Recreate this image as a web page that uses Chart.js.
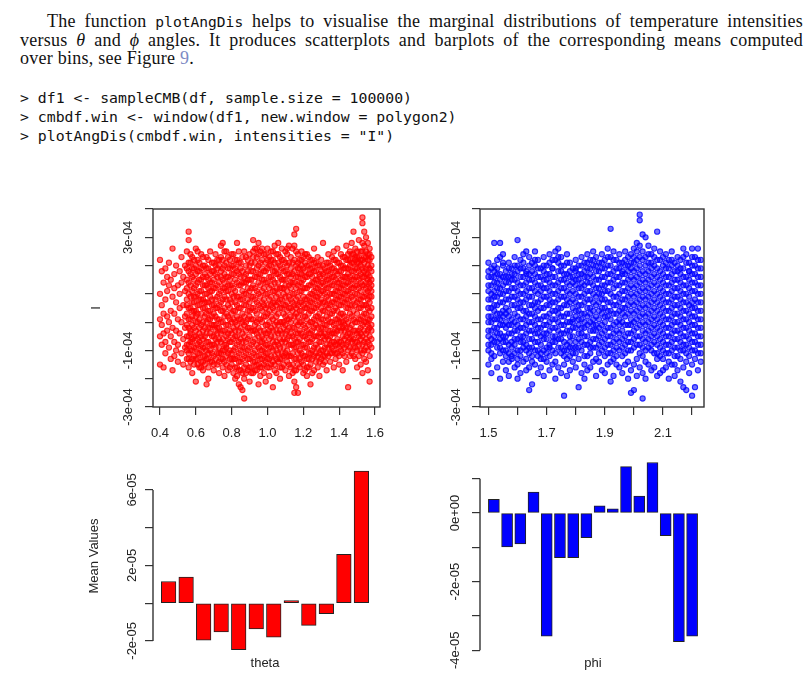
<!DOCTYPE html>
<html>
<head>
<meta charset="utf-8">
<script src="https://cdn.jsdelivr.net/npm/chart.js@4"></script>
<style>
  html, body { margin: 0; padding: 0; background: #fff; }
  #page { position: relative; width: 807px; height: 678px; overflow: hidden; background: #fff; }
  .txt { position: absolute; left: 20px; width: 783px; font-family: 'Liberation Serif', serif; font-size: 18px; letter-spacing: 0.25px; line-height: 18px; color: #111; }
  .jl { text-align: justify; text-align-last: justify; }
  .tt { font-family: 'DejaVu Sans Mono', monospace; font-size: 14.6px; letter-spacing: 0; }
  .code { position: absolute; left: 20px; font-family: 'DejaVu Sans Mono', monospace; font-size: 14.8px; line-height: 19px; color: #111; white-space: pre; }
  canvas { position: absolute; }
</style>
</head>
<body>
<div id="page">
  <div class="txt" style="top:12px">
    <div class="jl" style="padding-left:27px">The function <span class="tt">plotAngDis</span> helps to visualise the marginal distributions of temperature intensities</div>
    <div class="jl">versus <i>θ</i> and <i>ϕ</i> angles. It produces scatterplots and barplots of the corresponding means computed</div>
    <div>over bins, see Figure <span style="color:#7d8ac4">9</span>.</div>
  </div>
  <div class="code" style="top:88px">&gt; df1 &lt;- sampleCMB(df, sample.size = 100000)
&gt; cmbdf.win &lt;- window(df1, new.window = polygon2)
&gt; plotAngDis(cmbdf.win, intensities = "I")</div>

  <canvas id="thetaScatter" width="320" height="260" style="left:80px; top:195px"></canvas>
  <canvas id="phiScatter" width="300" height="260" style="left:420px; top:195px"></canvas>
  <canvas id="thetaBars" width="320" height="228" style="left:80px; top:450px"></canvas>
  <canvas id="phiBars" width="300" height="228" style="left:420px; top:450px"></canvas>
</div>
<script>
// tick labels that R actually prints (the others are skipped)
const scatterYLabels = ['3e-04', '1e-04', '-1e-04', '-3e-04'];
const thetaXLabels = ['0.4', '0.6', '0.8', '1.0', '1.2', '1.4', '1.6'];
const phiXLabels = ['1.5', '1.7', '1.9', '2.1'];
const thetaBarYLabels = ['6e-05', '2e-05', '-2e-05'];
const phiBarYLabels = ['0e+00', '-2e-05', '-4e-05'];

// bin means (barplots)
const thetaMeans = [1.15e-5, 1.38e-5, -1.96e-5, -1.52e-5, -2.47e-5, -1.36e-5, -1.80e-5, 0.14e-5, -1.18e-5, -0.56e-5, 2.59e-5, 7.0e-5];
const phiMeans = [0.40e-5, -0.99e-5, -0.90e-5, 0.61e-5, -3.59e-5, -1.30e-5, -1.30e-5, -0.72e-5, 0.21e-5, 0.12e-5, 1.35e-5, 0.49e-5, 1.47e-5, -0.66e-5, -3.75e-5, -3.59e-5];

// scatter samples: [angle, [intensities in units of 1e-5]]
const thetaSample = [
  [0.40, [18, 6, -3, -9, -19]], [0.41, [14, 2, -5, -12]], [0.42, [10, -1, -8, -20]], [0.43, [15, 4, -11, -15]],
  [0.44, [12, 7, -2, -7]], [0.45, [17, 9, -4, -13]], [0.46, [11, 0, -9, -17]], [0.47, [22, 5, -6, -21]],
  [0.48, [13, 8, -1, -11, -16]], [0.49, [16, 3, -7, -14]], [0.50, [9, -3, -12, -18]], [0.51, [14, 6, 1, -8]],
  [0.52, [19, 10, -4, -15]], [0.53, [12, 2, -10, -19]], [0.54, [16, 7, -2, -6, -13]], [0.55, [21, 11, 4, -5, -12, -17]],
  [0.56, [28, 25, 14, 6, -3, -9, -15, -20]], [0.57, [17, 9, 1, -7, -11, -18]], [0.58, [19, 12, 3, -2, -10, -14, -22]],
  [0.59, [15, 8, 0, -6, -13, -16]], [0.60, [22, 13, 5, -4, -9, -17, -25]], [0.61, [18, 10, 2, -1, -12, -15, -19]],
  [0.62, [14, 7, -3, -8, -11, -20]], [0.63, [20, 11, 4, -5, -14, -18]], [0.64, [16, 9, 1, -7, -10, -16, -21]],
  [0.65, [13, 6, -2, -9, -13, -19]], [0.66, [19, 12, 3, -4, -11, -17, -26]], [0.67, [15, 8, 0, -6, -15, -20, -24]],
  [0.68, [21, 10, 5, -3, -8, -14]], [0.69, [17, 7, 2, -5, -12, -18]], [0.70, [14, 11, -1, -9, -16, -21]],
  [0.71, [20, 13, 4, -2, -7, -13]], [0.72, [18, 9, 1, -6, -11, -19]], [0.73, [16, 6, -3, -10, -15, -22]],
  [0.74, [23, 12, 3, -4, -8, -17]], [0.75, [24, 15, 8, 0, -7, -14, -20]], [0.76, [21, 10, 5, -2, -12, -18, -23]],
  [0.77, [17, 7, -1, -9, -13, -16]], [0.78, [19, 12, 2, -5, -10, -21]], [0.79, [15, 9, 4, -3, -11, -17]],
  [0.80, [20, 13, 6, -1, -8, -15, -19]], [0.81, [16, 8, 0, -6, -14, -22]], [0.82, [18, 11, 3, -4, -9, -17, -24]],
  [0.83, [24, 14, 5, -2, -12, -20, -23]], [0.84, [17, 9, 1, -7, -15, -21, -26]], [0.85, [15, 12, 4, -3, -10, -18, -27]],
  [0.86, [19, 7, -1, -8, -13, -22, -28]], [0.87, [21, 10, 2, -5, -16, -24, -31]], [0.88, [16, 13, 6, -4, -11, -19]],
  [0.89, [18, 8, 0, -6, -14, -21]], [0.90, [20, 11, 3, -2, -9, -17, -25]], [0.91, [17, 14, 5, -3, -12, -20]],
  [0.92, [25, 19, 9, 1, -7, -15, -22]], [0.93, [22, 12, 4, -5, -10, -18]], [0.94, [19, 15, 7, -1, -8, -16, -21]],
  [0.95, [24, 16, 10, 2, -6, -13, -19, -26]], [0.96, [21, 13, 5, -3, -11, -17, -23]], [0.97, [18, 11, 3, 0, -9, -14, -20]],
  [0.98, [20, 14, 8, -2, -7, -16, -22]], [0.99, [17, 10, 1, -5, -12, -18, -25]], [1.00, [22, 15, 6, -1, -8, -15, -20]],
  [1.01, [19, 12, 4, -4, -10, -17, -23]], [1.02, [21, 16, 9, 2, -6, -13, -19]], [1.03, [18, 11, 3, -3, -11, -18, -27]],
  [1.04, [23, 14, 7, 0, -9, -16, -21]], [1.05, [20, 13, 5, -2, -7, -14, -22]], [1.06, [24, 17, 10, 3, -5, -12, -18]],
  [1.07, [19, 12, 4, -4, -10, -17, -24]], [1.08, [22, 15, 8, 1, -8, -15, -20]], [1.09, [18, 11, 6, -1, -6, -13, -19]],
  [1.10, [21, 14, 9, 2, -5, -11, -21]], [1.11, [20, 16, 7, 0, -7, -14, -18]], [1.12, [23, 13, 5, -3, -9, -16, -23]],
  [1.13, [19, 12, 8, 1, -4, -12, -20]], [1.14, [22, 17, 10, 3, -6, -15, -22]], [1.15, [27, 23, 14, 6, -2, -10, -17, -25, -29]],
  [1.16, [29, 21, 12, 4, -1, -8, -13, -21, -27]], [1.17, [20, 15, 9, 2, -5, -11, -19, -29]], [1.18, [18, 13, 7, 0, -7, -14, -20]],
  [1.19, [21, 16, 10, 3, -4, -12, -18]], [1.20, [19, 11, 5, -2, -9, -16, -22]], [1.21, [17, 14, 8, 1, -6, -13, -21]],
  [1.22, [20, 12, 4, -3, -10, -17, -23]], [1.23, [16, 9, 2, -5, -8, -15, -20]], [1.24, [18, 13, 6, 0, -11, -19, -26]],
  [1.25, [15, 10, 3, -4, -7, -14, -22]], [1.26, [22, 14, 7, 1, -9, -16, -21]], [1.27, [17, 11, 5, -2, -12, -18]],
  [1.28, [19, 8, 2, -6, -13, -20]], [1.29, [16, 12, 6, -1, -8, -15, -23]], [1.30, [18, 10, 4, -3, -11, -17]],
  [1.31, [24, 13, 7, 0, -6, -14, -19]], [1.32, [15, 9, 3, -5, -10, -16]], [1.33, [17, 11, 5, -2, -12, -21]],
  [1.34, [20, 14, 8, 1, -7, -13]], [1.35, [16, 10, 2, -4, -9, -18]], [1.36, [19, 12, 6, -1, -11, -15]],
  [1.37, [21, 15, 9, 3, -5, -14, -20]], [1.38, [18, 11, 4, -3, -8, -17]], [1.39, [22, 13, 7, 0, -10, -12]],
  [1.40, [17, 10, 5, -2, -6, -16, -19]], [1.41, [20, 14, 8, 2, -4, -11]], [1.42, [16, 12, 3, -1, -9, -15, -21]],
  [1.43, [19, 9, 6, -5, -7, -13]], [1.44, [23, 15, 10, 4, -3, -12, -18]], [1.45, [18, 13, 7, 1, -8, -14, -27]],
  [1.46, [21, 16, 9, 2, -6, -10, -16]], [1.47, [24, 17, 11, 5, -2, -9, -15]], [1.48, [28, 20, 14, 8, 0, -7, -13]],
  [1.49, [22, 18, 12, 6, -4, -11, -17]], [1.50, [19, 15, 9, 3, -1, -8, -14, -20]], [1.51, [25, 17, 11, 4, -3, -12, -16]],
  [1.52, [21, 16, 13, 7, 1, -6, -10, -19]], [1.53, [33, 31, 24, 18, 12, 5, -2, -9, -15, -22]],
  [1.54, [28, 23, 19, 14, 9, 2, -4, -11, -17]], [1.55, [26, 21, 15, 10, 6, -1, -8, -13, -18]],
  [1.56, [24, 20, 16, 11, 4, -3, -7, -14, -21]], [1.57, [22, 18, 12, 8, 3, 0, -6, -12, -16, -25]],
  [1.58, [19, 14, 9, 5, -2, -5, -10]]
];

// the saturated middle of the theta cloud
const thetaCore = [
  [0.55, [8, -1, -9, 15, 2, -14]], [0.56, [10, 1, -6, -12, 17, -17]], [0.57, [13, 5, -3, -14, 20, -8]],
  [0.58, [7, -5, -17, 15, 0, -11]], [0.59, [11, 3, -9, -19, 18, 5]], [0.60, [9, 0, -7, -13, 16, -2]],
  [0.61, [14, 6, -4, -10, -17, 21]], [0.62, [11, 2, -6, -15, 17, 4]], [0.63, [7, -1, -9, -12, 15, -20]],
  [0.64, [12, 4, -4, -13, 19, -18]], [0.65, [9, 1, -6, -16, 16, 3]], [0.66, [15, 6, -1, -8, -14, 9]],
  [0.67, [11, 3, -3, -11, 18, -17]], [0.68, [13, 7, 0, -6, -12, -18]], [0.69, [10, 4, -2, -9, 14, -15]],
  [0.70, [8, 2, -5, -12, 17, -19]], [0.71, [16, 8, 1, -5, -10, -17]], [0.72, [12, 5, -3, -8, -15, 15]],
  [0.73, [10, 2, -6, -13, 18, -18]], [0.74, [14, 7, 0, -11, -15, 19]], [0.75, [11, 4, -4, -10, 18, -17]],
  [0.76, [16, 8, 1, -7, -14, 13]], [0.77, [12, 4, -5, -12, 21, -19]], [0.78, [15, 7, -2, -8, -15, 9]],
  [0.79, [11, 1, -7, -14, 18, -20]], [0.80, [9, 3, -4, -11, 16, -17]], [0.81, [13, 5, -3, -10, -17, 20]],
  [0.82, [15, 7, 0, -7, -13, -20]], [0.83, [10, 2, -5, -9, -16, 18]], [0.84, [13, 5, -3, -11, -18, 21]],
  [0.85, [9, 1, -6, -14, 17, -21]], [0.86, [14, 4, -4, -11, -17, 10]], [0.87, [12, 6, -2, -9, -13, -20]],
  [0.88, [10, 2, -7, -15, 19, -22]], [0.89, [14, 4, -3, -10, -17, 11]], [0.90, [16, 7, 0, -6, -13, -20]],
  [0.91, [11, 8, 1, -7, -16, -22]], [0.92, [14, 5, -3, -11, -18, 21]], [0.93, [17, 8, 0, -7, -14, -21]],
  [0.94, [12, 3, -4, -12, -19, 22]], [0.95, [13, 6, -3, -9, -16, 20]], [0.96, [17, 9, 1, -7, -14, -20]],
  [0.97, [15, 7, -4, -11, -17, 22]], [0.98, [11, 4, 2, -10, -13, -19]], [0.99, [14, 6, -2, -8, -15, 20]],
  [1.00, [18, 10, 2, -5, -12, -17]], [1.01, [16, 8, 0, -7, -13, -20]], [1.02, [12, 5, -2, -9, -16, 18]],
  [1.03, [14, 7, 1, -7, -14, 21]], [1.04, [17, 10, 3, -5, -12, -19]], [1.05, [15, 8, 2, -4, -11, -17]],
  [1.06, [13, 6, -1, -8, -15, 20]], [1.07, [16, 8, 1, -7, -13, -20]], [1.08, [18, 11, 4, -4, -11, -17]],
  [1.09, [14, 8, 2, -4, -10, -16]], [1.10, [17, 11, 5, -2, -8, -15]], [1.11, [13, 3, -3, -10, -16, 22]],
  [1.12, [17, 9, 1, -6, -12, -19]], [1.13, [15, 10, 4, -2, -8, -16]], [1.14, [13, 6, 0, -9, -12, -19]],
  [1.15, [18, 10, 2, -6, -13, -21]], [1.16, [16, 8, 1, -4, -11, -17]], [1.17, [17, 12, 5, -2, -8, -15]],
  [1.18, [15, 10, 3, -4, -10, -17]], [1.19, [18, 13, 7, 0, -8, -15]], [1.20, [15, 8, 2, -5, -12, -19]],
  [1.21, [12, 4, -2, -9, -16, 20]], [1.22, [16, 8, 1, -7, -13, -20]], [1.23, [13, 5, -1, -11, -17, 19]],
  [1.24, [15, 9, 3, -4, -8, -15]], [1.25, [18, 12, 6, 0, -10, -17]], [1.26, [17, 10, 4, -3, -6, -13]],
  [1.27, [14, 8, 1, -5, -9, -15]], [1.28, [16, 11, 5, -2, -9, -16]], [1.29, [13, 9, 3, -4, -11, -18]],
  [1.30, [14, 7, 1, -6, -8, -14]], [1.31, [16, 10, 3, -3, -9, -16]], [1.32, [12, 6, 0, -8, -13, -18]],
  [1.33, [14, 8, 2, -5, -9, -15]], [1.34, [17, 11, 4, -3, -10, -16]], [1.35, [13, 6, -1, -7, -12, -15]],
  [1.36, [15, 9, 3, -4, -8, -13]], [1.37, [18, 12, 6, 0, -8, -11]], [1.38, [14, 7, 1, -6, -12, -15]],
  [1.39, [17, 10, 4, -3, -7, -15]], [1.40, [14, 8, 2, -4, -11, -13]], [1.41, [16, 11, 5, -1, -7, -14]],
  [1.42, [19, 9, 6, -4, -6, -12]], [1.43, [15, 12, 3, -2, -10, -16]], [1.44, [18, 12, 7, 1, -6, -9]],
  [1.45, [20, 15, 10, 4, -4, -11]], [1.46, [18, 12, 6, -1, -8, -13]], [1.47, [20, 14, 8, 2, -5, -11]],
  [1.48, [17, 11, 4, -3, -10, -16]], [1.49, [19, 15, 9, 2, -7, -13]], [1.50, [21, 17, 12, 6, -4, -11]],
  [1.51, [19, 14, 8, 1, -7, -9]], [1.52, [18, 10, 4, -3, -8, -14]], [1.53, [21, 15, 9, 2, -5, -12]],
  [1.54, [17, 12, 5, -1, -7, -14]], [1.55, [19, 13, 8, 2, -4, -10]], [1.56, [18, 13, 7, 1, -5, -11]],
  [1.57, [20, 15, 10, 5, -3, -9]], [1.58, [16, 11, 7, 1, -7, -13]]
];

const phiSample = [
  [1.50, [17, 12, 7, 1, -4, -9, -14, -19]], [1.51, [15, 9, 4, -2, -7, -12, -17, -22]], [1.52, [24, 14, 10, 5, 0, -6, -11, -16]],
  [1.53, [18, 13, 8, 2, -3, -8, -13, -20]], [1.54, [24, 19, 11, 6, -1, -5, -10, -15, -24]], [1.55, [20, 16, 9, 3, -2, -9, -14, -18]],
  [1.56, [14, 10, 4, -1, -6, -11, -16, -21]], [1.57, [17, 12, 7, 0, -5, -12, -18, -23]], [1.58, [15, 11, 5, -3, -8, -13, -17]],
  [1.59, [19, 13, 8, 2, -4, -10, -15, -20]], [1.60, [25, 16, 10, 4, -2, -7, -14, -19, -24]], [1.61, [18, 12, 6, 1, -6, -11, -16, -22]],
  [1.62, [20, 15, 9, 3, -3, -9, -13, -18]], [1.63, [21, 14, 7, 0, -5, -12, -17, -21]], [1.64, [19, 13, 8, 2, -4, -10, -15, -20, -28]],
  [1.65, [17, 11, 5, -1, -7, -13, -18, -26]], [1.66, [21, 16, 10, 3, -2, -8, -14, -19]], [1.67, [18, 12, 6, 0, -6, -11, -16, -22]],
  [1.68, [15, 9, 4, -3, -9, -15, -20]], [1.69, [19, 14, 8, 1, -5, -10, -17, -23]], [1.70, [16, 11, 5, -2, -8, -13, -18]],
  [1.71, [20, 13, 7, 2, -4, -12, -16, -21]], [1.72, [18, 15, 9, 3, -3, -9, -14, -19]], [1.73, [21, 12, 6, 0, -6, -11, -18, -24]],
  [1.74, [22, 17, 10, 4, -1, -7, -13, -20]], [1.75, [19, 14, 8, 1, -5, -10, -15, -22]], [1.76, [16, 11, 5, -2, -8, -14, -19, -30]],
  [1.77, [20, 13, 7, 2, -4, -12, -17, -23]], [1.78, [17, 12, 6, -1, -7, -9, -16, -21]], [1.79, [15, 10, 4, -3, -6, -13, -18]],
  [1.80, [18, 14, 9, 3, -2, -11, -15, -20]], [1.81, [16, 11, 5, 0, -5, -10, -17, -27]], [1.82, [19, 13, 8, 2, -3, -8, -14, -22]],
  [1.83, [17, 12, 6, -1, -6, -12, -19, -24]], [1.84, [20, 15, 10, 4, -2, -9, -16, -21]], [1.85, [18, 13, 7, 1, -4, -11, -15, -20]],
  [1.86, [21, 16, 9, 3, -3, -7, -13, -18]], [1.87, [19, 14, 8, 2, -5, -10, -17, -23]], [1.88, [17, 11, 6, 0, -6, -12, -18]],
  [1.89, [20, 15, 9, 4, -1, -8, -14, -21]], [1.90, [18, 12, 7, 1, -4, -10, -16, -22]], [1.91, [22, 16, 10, 3, -2, -9, -15, -19]],
  [1.92, [29, 19, 13, 6, 0, -6, -12, -18, -25]], [1.93, [21, 14, 8, 2, -5, -11, -17, -23]], [1.94, [18, 12, 5, -1, -7, -13, -19]],
  [1.95, [20, 15, 9, 3, -3, -8, -14, -20]], [1.96, [17, 13, 7, 1, -4, -10, -16, -22]], [1.97, [21, 16, 10, 4, -2, -9, -15, -19]],
  [1.98, [19, 14, 8, 2, -5, -11, -18, -24]], [1.99, [20, 15, 9, 3, -3, -8, -14, -21, -29]], [2.00, [22, 17, 11, 5, -1, -7, -13, -19, -28]],
  [2.01, [24, 18, 12, 6, 0, -6, -12, -17, -23]], [2.02, [34, 32, 23, 16, 10, 4, -2, -9, -15, -20]],
  [2.03, [27, 21, 14, 8, 2, -4, -10, -16, -22, -31]], [2.04, [26, 19, 13, 7, 1, -5, -11, -18, -24]],
  [2.05, [23, 17, 11, 5, -1, -7, -13, -19]], [2.06, [20, 15, 9, 3, -3, -9, -14, -21]], [2.07, [22, 16, 10, 4, -2, -8, -15, -20]],
  [2.08, [28, 18, 12, 6, 0, -6, -12, -17, -23]], [2.09, [21, 14, 8, 2, -4, -10, -16, -22]], [2.10, [19, 13, 7, 1, -5, -11, -17, -21]],
  [2.11, [20, 15, 9, 3, -3, -9, -15, -20]], [2.12, [18, 12, 6, 0, -6, -12, -18, -24]], [2.13, [21, 16, 10, 4, -2, -8, -14, -19]],
  [2.14, [17, 11, 5, -1, -7, -13, -19, -23]], [2.15, [19, 14, 8, 2, -4, -10, -16, -21]], [2.16, [18, 13, 7, 1, -5, -11, -17, -25]],
  [2.17, [22, 15, 9, 3, -3, -9, -14, -20, -27]], [2.18, [20, 12, 6, 0, -6, -12, -18, -28]], [2.19, [17, 14, 8, 2, -4, -10, -16, -22]],
  [2.20, [22, 16, 10, 3, -2, -8, -14, -19, -30]], [2.21, [19, 13, 7, 1, -5, -11, -17, -27]], [2.22, [22, 15, 9, 3, -3, -9, -15, -21]],
  [2.23, [18, 12, 6, 0, -6, -12, -18]]
];

// the saturated middle of the phi cloud
const phiCore = [
  [1.50, [14, 9, 4, -2, -7, -12]], [1.51, [12, 6, 1, -4, -10, -15]], [1.52, [16, 12, 7, 2, -3, -9]],
  [1.53, [15, 10, 5, -1, -6, -11]], [1.54, [13, 8, 3, -3, -8, -13]], [1.55, [17, 12, 6, 0, -5, -11]],
  [1.56, [12, 7, 1, -4, -9, -14]], [1.57, [15, 10, 4, -2, -8, -15]], [1.58, [13, 8, 2, -5, -11, -16]],
  [1.59, [16, 11, 5, -1, -7, -12]], [1.60, [14, 7, 1, -5, -10, -17]], [1.61, [15, 9, 3, -3, -9, -14]],
  [1.62, [17, 12, 6, 0, -6, -11]], [1.63, [13, 10, 4, -2, -8, -14]], [1.64, [16, 11, 5, -1, -7, -13]],
  [1.65, [14, 8, 2, -4, -10, -16]], [1.66, [18, 13, 7, 1, -5, -11]], [1.67, [15, 9, 3, -3, -8, -14]],
  [1.68, [12, 7, 1, -6, -12, -17]], [1.69, [16, 11, 5, -2, -8, -14]], [1.70, [13, 8, 2, -5, -10, -15]],
  [1.71, [17, 10, 4, -1, -7, -13]], [1.72, [15, 12, 6, 0, -6, -11]], [1.73, [18, 9, 3, -3, -9, -15]],
  [1.74, [19, 14, 7, 1, -4, -10]], [1.75, [16, 11, 5, -2, -8, -13]], [1.76, [13, 8, 2, -5, -11, -16]],
  [1.77, [17, 10, 4, -1, -7, -14]], [1.78, [14, 9, 3, -4, -11, -13]], [1.79, [12, 7, 1, -4, -9, -15]],
  [1.80, [15, 11, 6, 0, -6, -13]], [1.81, [13, 8, 2, -3, -8, -13]], [1.82, [16, 10, 5, -1, -6, -11]],
  [1.83, [14, 9, 3, -4, -9, -16]], [1.84, [17, 12, 7, 1, -5, -12]], [1.85, [15, 10, 4, -1, -7, -13]],
  [1.86, [18, 12, 6, 0, -5, -10]], [1.87, [16, 11, 5, -2, -7, -13]], [1.88, [14, 8, 3, -3, -9, -15]],
  [1.89, [17, 12, 6, 1, -5, -11]], [1.90, [15, 9, 4, -2, -7, -13]], [1.91, [19, 13, 7, 0, -6, -12]],
  [1.92, [16, 10, 3, -3, -9, -15]], [1.93, [18, 11, 5, -1, -8, -14]], [1.94, [15, 9, 2, -4, -10, -16]],
  [1.95, [17, 12, 6, 0, -5, -11]], [1.96, [14, 10, 4, -1, -7, -13]], [1.97, [18, 13, 7, 1, -5, -12]],
  [1.98, [16, 11, 5, -1, -8, -14]], [1.99, [17, 12, 6, 0, -5, -11]], [2.00, [19, 14, 8, 2, -4, -10]],
  [2.01, [21, 15, 9, 3, -3, -9]], [2.02, [19, 13, 7, 1, -5, -12]], [2.03, [18, 11, 5, -1, -7, -13]],
  [2.04, [16, 10, 4, -2, -8, -14]], [2.05, [20, 14, 8, 2, -4, -10]], [2.06, [17, 12, 6, 0, -6, -12]],
  [2.07, [19, 13, 7, 1, -5, -11]], [2.08, [15, 9, 3, -3, -9, -15]], [2.09, [18, 11, 5, -1, -7, -13]],
  [2.10, [16, 10, 4, -2, -8, -14]], [2.11, [17, 12, 6, 0, -6, -12]], [2.12, [15, 9, 3, -3, -9, -15]],
  [2.13, [18, 13, 7, 1, -5, -11]], [2.14, [14, 8, 2, -4, -10, -16]], [2.15, [16, 11, 5, -1, -7, -13]],
  [2.16, [15, 10, 4, -2, -8, -14]], [2.17, [19, 12, 6, 0, -6, -12]], [2.18, [17, 9, 3, -3, -9, -15]],
  [2.19, [14, 11, 5, -1, -7, -13]], [2.20, [19, 13, 7, 1, -5, -11]], [2.21, [16, 10, 4, -2, -8, -14]],
  [2.22, [18, 12, 6, 0, -6, -12]], [2.23, [15, 9, 3, -3, -9, -15]]
];

Chart.defaults.font.family = "'Liberation Sans', Arial, sans-serif";
Chart.defaults.font.size = 13;
Chart.defaults.color = '#222';

const AXIS = '#333';

function rExp(v) {
  if (Math.abs(v) < 1e-12) return '0e+00';
  const [m, e] = v.toExponential(0).split('e');
  const n = parseInt(e, 10);
  return m + 'e' + (n < 0 ? '-' : '+') + String(Math.abs(n)).padStart(2, '0');
}

function toPoints(...samples) {
  const pts = [];
  samples.forEach(sample => sample.forEach(([x, ys]) => ys.forEach(y => pts.push({ x: x, y: y * 1e-5 }))));
  return pts;
}

// R style frame: full box for plot(), short axis line for barplot()
const rFrame = {
  id: 'rFrame',
  afterDraw(chart, args, opts) {
    const { ctx, chartArea: a, scales } = chart;
    ctx.save();
    ctx.strokeStyle = AXIS;
    ctx.lineWidth = 1.4;
    if (opts.box) {
      ctx.strokeRect(a.left, a.top, a.right - a.left, a.bottom - a.top);
    }
    if (opts.axisFrom !== undefined) {
      ctx.beginPath();
      ctx.moveTo(a.left, scales.y.getPixelForValue(opts.axisFrom));
      ctx.lineTo(a.left, scales.y.getPixelForValue(opts.axisTo));
      ctx.stroke();
    }
    ctx.restore();
  }
};

function scatterChart(id, points, color, xr, yTitle, yPad, xLabels) {
  new Chart(document.getElementById(id), {
    type: 'scatter',
    data: {
      datasets: [{
        data: points,
        borderColor: color.line,
        backgroundColor: color.fill,
        pointRadius: 2.6,
        borderWidth: 1.1
      }]
    },
    options: {
      responsive: false,
      animation: false,
      devicePixelRatio: 1,
      layout: { padding: { left: 0, right: xr.padRight, top: 14, bottom: 0 } },
      plugins: { legend: { display: false }, tooltip: { enabled: false }, rFrame: { box: true } },
      scales: {
        x: {
          type: 'linear', min: xr.min, max: xr.max,
          afterFit: s => { s.height = 48; },
          border: { display: false },
          grid: { drawOnChartArea: false, tickLength: 8, color: AXIS, lineWidth: 1.2 },
          ticks: {
            stepSize: xr.step, includeBounds: false, autoSkip: false, maxRotation: 0, padding: 11,
            callback: v => { const s = v.toFixed(1); return xLabels.includes(s) ? s : ''; }
          }
        },
        y: {
          min: -3.4e-4, max: 3.6e-4,
          afterFit: s => { s.width = xr.yWidth; },
          border: { display: false },
          grid: { drawOnChartArea: false, tickLength: 8, color: AXIS, lineWidth: 1.2 },
          title: { display: !!yTitle, text: yTitle, padding: { top: 9, bottom: 0 } },
          ticks: {
            stepSize: 1e-4, includeBounds: false, autoSkip: false, minRotation: 90, maxRotation: 90,
            crossAlign: 'center', padding: yPad,
            callback: v => { const s = rExp(v); return scatterYLabels.includes(s) ? s : ''; }
          }
        }
      }
    },
    plugins: [rFrame]
  });
}

function barChart(id, means, fill, cfg) {
  // barplot layout: width 1, space 0.2, plus R's 4% axis extension
  const lo = 0.2, hi = 1.2 * means.length, ext = 0.04 * (hi - lo);
  new Chart(document.getElementById(id), {
    type: 'bar',
    data: {
      datasets: [{
        data: means.map((v, i) => ({ x: 0.7 + 1.2 * i, y: v })),
        backgroundColor: fill,
        borderColor: '#222',
        borderWidth: 1,
        borderSkipped: false,
        barThickness: cfg.barPx
      }]
    },
    options: {
      responsive: false,
      animation: false,
      devicePixelRatio: 1,
      layout: { padding: { left: 0, right: cfg.padRight, top: 6, bottom: 0 } },
      plugins: {
        legend: { display: false }, tooltip: { enabled: false },
        rFrame: { axisFrom: cfg.axisFrom, axisTo: cfg.axisTo }
      },
      scales: {
        x: {
          type: 'linear', offset: false, min: lo - ext, max: hi + ext,
          afterFit: s => { s.height = 22; },
          border: { display: false },
          grid: { display: false },
          ticks: { display: false },
          title: { display: true, text: cfg.xTitle, padding: { top: 0, bottom: 7 } }
        },
        y: {
          min: cfg.min, max: cfg.max,
          afterFit: s => { s.width = cfg.yWidth; },
          border: { display: false },
          grid: { drawOnChartArea: false, tickLength: 8, color: AXIS, lineWidth: 1.2 },
          title: { display: !!cfg.yTitle, text: cfg.yTitle, padding: { top: 7, bottom: 0 } },
          ticks: {
            stepSize: cfg.step, includeBounds: false, autoSkip: false, minRotation: 90, maxRotation: 90,
            crossAlign: 'center', padding: cfg.yPad,
            callback: v => { const s = rExp(v); return cfg.labels.includes(s) ? s : ''; }
          }
        }
      }
    },
    plugins: [rFrame]
  });
}

scatterChart('thetaScatter', toPoints(thetaSample, thetaCore),
  { line: 'rgba(255,0,0,0.8)', fill: 'rgba(255,0,0,0.55)' },
  { min: 0.361, max: 1.628, step: 0.2, padRight: 20, yWidth: 73 }, 'I', -2, thetaXLabels);

scatterChart('phiScatter', toPoints(phiSample, phiCore),
  { line: 'rgba(0,0,255,0.8)', fill: 'rgba(0,0,255,0.55)' },
  { min: 1.471, max: 2.241, step: 0.1, padRight: 16, yWidth: 60 }, '', -3, phiXLabels);

barChart('thetaBars', thetaMeans, '#ff0000', {
  barPx: 14.6, padRight: 23, yWidth: 73, min: -2.8e-5, max: 7.8e-5, step: 2e-5,
  axisFrom: -2e-5, axisTo: 6e-5, labels: thetaBarYLabels, yPad: -6, yTitle: 'Mean Values', xTitle: 'theta'
});

barChart('phiBars', phiMeans, '#0000ff', {
  barPx: 11, padRight: 14, yWidth: 60, min: -4.165e-5, max: 1.66e-5, step: 1e-5,
  axisFrom: -4e-5, axisTo: 1e-5, labels: phiBarYLabels, yPad: -2, yTitle: '', xTitle: 'phi'
});
</script>
</body>
</html>
